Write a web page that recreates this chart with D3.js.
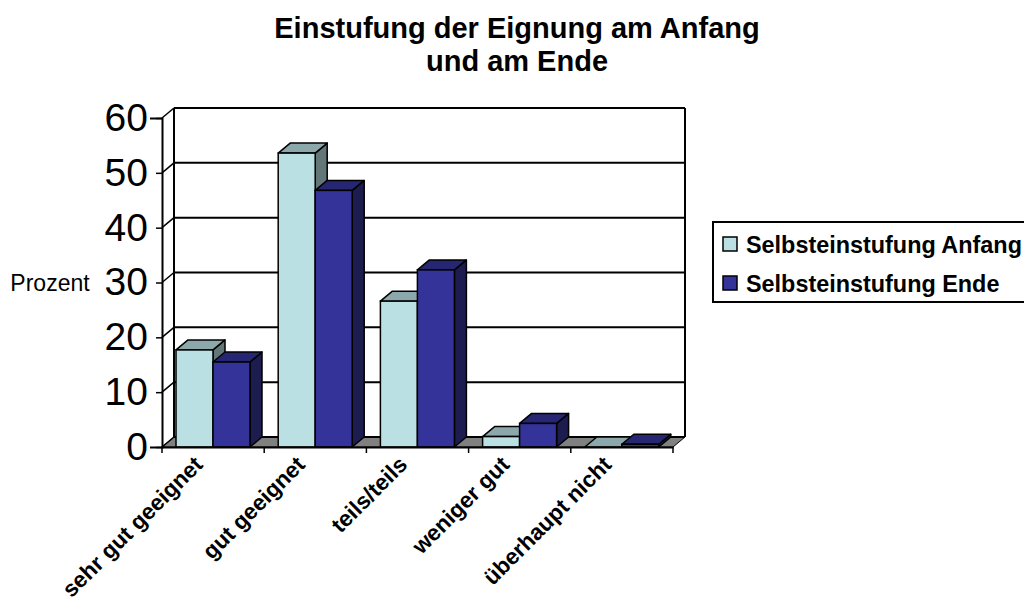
<!DOCTYPE html>
<html>
<head>
<meta charset="utf-8">
<script src="https://cdn.jsdelivr.net/npm/d3@7"></script>
<style>
  html, body { margin: 0; padding: 0; background: #fff; }
  svg { display: block; font-family: "Liberation Sans", Arial, sans-serif; }
</style>
</head>
<body>
<script>
// Werte
var kategorien = ["sehr gut geeignet", "gut geeignet", "teils/teils", "weniger gut", "überhaupt nicht"];
var serien = ["Selbsteinstufung Anfang", "Selbsteinstufung Ende"];
var anfang = [17.7, 53.6, 26.6, 1.9, 0];
var ende = [15.5, 46.8, 32.3, 4.3, 0.5];
var yTicks = [0, 10, 20, 30, 40, 50, 60];

var farben = [
  { front: "#BBE0E3", top: "#8CA8AA", side: "#637779" },
  { front: "#333399", top: "#262673", side: "#1C1C4F" }
];

var svg = d3.select("body").append("svg").attr("width", 1024).attr("height", 605);

// Tiefe des 3D-Effekts
var dx = 12, dy = -10;

var x = d3.scaleBand().domain(kategorien).range([162, 673]);
var y = d3.scaleLinear().domain([0, 60]).range([447, 118]);
var xSerie = d3.scaleBand().domain(serien).range([14, 88]);

// Rückwand und Gitterlinien
var chart = svg.append("g");
var grau = "#808080";

chart.append("path")
  .attr("d", "M" + x.range()[0] + "," + y(0) + "L" + (x.range()[0] + dx) + "," + (y(0) + dy) +
    "L" + (x.range()[1] + dx) + "," + (y(0) + dy) + "L" + x.range()[1] + "," + y(0) + "Z")
  .attr("fill", grau)
  .attr("stroke", "black")
  .attr("stroke-width", 1);

chart.selectAll("line.grid")
  .data(yTicks)
  .enter().append("line")
  .attr("class", "grid")
  .attr("x1", x.range()[0] + dx)
  .attr("x2", x.range()[1] + dx)
  .attr("y1", function(d) { return y(d) + dy; })
  .attr("y2", function(d) { return y(d) + dy; })
  .attr("stroke", "black")
  .attr("stroke-width", 2);

// Schräge Linien von der Achse zur Wand
chart.selectAll("line.schraeg")
  .data(yTicks)
  .enter().append("line")
  .attr("class", "schraeg")
  .attr("x1", x.range()[0])
  .attr("x2", x.range()[0] + dx)
  .attr("y1", function(d) { return y(d); })
  .attr("y2", function(d) { return y(d) + dy; })
  .attr("stroke", "black")
  .attr("stroke-width", 1.5);

chart.append("line")
  .attr("x1", x.range()[0] + dx).attr("x2", x.range()[0] + dx)
  .attr("y1", y(60) + dy).attr("y2", y(0) + dy)
  .attr("stroke", "black").attr("stroke-width", 2);
chart.append("line")
  .attr("x1", x.range()[1] + dx).attr("x2", x.range()[1] + dx)
  .attr("y1", y(60) + dy).attr("y2", y(0) + dy)
  .attr("stroke", "black").attr("stroke-width", 2);

// Balken: jede Serie mit Seitenfläche, Deckel und Front
function balken(werte, s) {
  var g = chart.append("g");
  var k = kategorien.map(function(c, i) {
    return { x0: x(c) + xSerie(serien[s]), x1: x(c) + xSerie(serien[s]) + xSerie.bandwidth(), y0: y(0), y1: y(werte[i]) };
  });
  g.selectAll("path.side").data(k).enter().append("path")
    .attr("d", function(d) {
      return "M" + d.x1 + "," + d.y0 + "L" + (d.x1 + dx) + "," + (d.y0 + dy) + "L" + (d.x1 + dx) + "," + (d.y1 + dy) + "L" + d.x1 + "," + d.y1 + "Z";
    })
    .attr("fill", farben[s].side).attr("stroke", "black").attr("stroke-width", 1.5).attr("stroke-linejoin", "round");
  g.selectAll("path.top").data(k).enter().append("path")
    .attr("d", function(d) {
      return "M" + d.x0 + "," + d.y1 + "L" + (d.x0 + dx) + "," + (d.y1 + dy) + "L" + (d.x1 + dx) + "," + (d.y1 + dy) + "L" + d.x1 + "," + d.y1 + "Z";
    })
    .attr("fill", farben[s].top).attr("stroke", "black").attr("stroke-width", 1.5).attr("stroke-linejoin", "round");
  g.selectAll("rect").data(k).enter().append("rect")
    .attr("x", function(d) { return d.x0; })
    .attr("y", function(d) { return d.y1; })
    .attr("width", function(d) { return d.x1 - d.x0; })
    .attr("height", function(d) { return d.y0 - d.y1; })
    .attr("fill", farben[s].front).attr("stroke", "black").attr("stroke-width", 1.5);
}
balken(anfang, 0);
balken(ende, 1);

// Achsen
var yAchse = d3.axisLeft(y).tickValues(yTicks).tickSize(12).tickPadding(1).tickFormat(d3.format("d"));
var yG = svg.append("g").attr("transform", "translate(162,0)").call(yAchse);
yG.select(".domain").attr("stroke", "black").attr("stroke-width", 2);
yG.selectAll("line").attr("stroke", "black").attr("stroke-width", 1.5).attr("x2", -6);
yG.selectAll("text").attr("font-size", 39).attr("fill", "black").attr("font-family", "Liberation Sans").attr("x", -14);

var xAchse = d3.axisBottom(x).tickSizeOuter(0).tickSize(0).tickFormat("");
var xG = svg.append("g").attr("transform", "translate(0," + y(0) + ")").call(xAchse);
xG.select(".domain").attr("stroke", "black").attr("stroke-width", 2);

// Teilstriche liegen zwischen den Kategorien
var grenzen = kategorien.map(function(c) { return x(c); }).concat([x.range()[1]]);
xG.selectAll("line.strich").data(grenzen).enter().append("line")
  .attr("class", "strich")
  .attr("x1", function(d) { return d; }).attr("x2", function(d) { return d; })
  .attr("y1", 0).attr("y2", 6)
  .attr("stroke", "black").attr("stroke-width", 1.5);

// Kategorien, um 45 Grad gedreht
svg.selectAll("text.kat").data(kategorien).enter().append("text")
  .attr("class", "kat")
  .attr("transform", function(d) { return "translate(" + (x(d) + x.bandwidth() / 2 - 9) + ",466) rotate(-45)"; })
  .attr("text-anchor", "end")
  .attr("font-size", 22.5)
  .attr("font-weight", "bold")
  .text(function(d) { return d; });

svg.append("text").attr("x", 50).attr("y", 291)
  .attr("text-anchor", "middle").attr("font-size", 23).text("Prozent");

// Titel
var titel = ["Einstufung der Eignung am Anfang", "und am Ende"];
svg.selectAll("text.titel").data(titel).enter().append("text")
  .attr("class", "titel")
  .attr("x", 517)
  .attr("y", function(d, i) { return 38 + i * 33; })
  .attr("text-anchor", "middle")
  .attr("font-size", 29)
  .attr("font-weight", "bold")
  .text(function(d) { return d; });

// Legende
var legende = svg.append("g");
legende.append("rect").attr("x", 713).attr("y", 222).attr("width", 320).attr("height", 80)
  .attr("fill", "white").attr("stroke", "black").attr("stroke-width", 2);
var eintrag = legende.selectAll("g").data(serien).enter().append("g")
  .attr("transform", function(d, i) { return "translate(723," + (237 + i * 39) + ")"; });
eintrag.append("rect").attr("width", 14).attr("height", 14)
  .attr("fill", function(d, i) { return farben[i].front; })
  .attr("stroke", "black").attr("stroke-width", 1.5);
eintrag.append("text").attr("x", 23).attr("y", 16)
  .attr("font-size", 23.4).attr("font-weight", "bold")
  .text(function(d) { return d; });
</script>
</body>
</html>
